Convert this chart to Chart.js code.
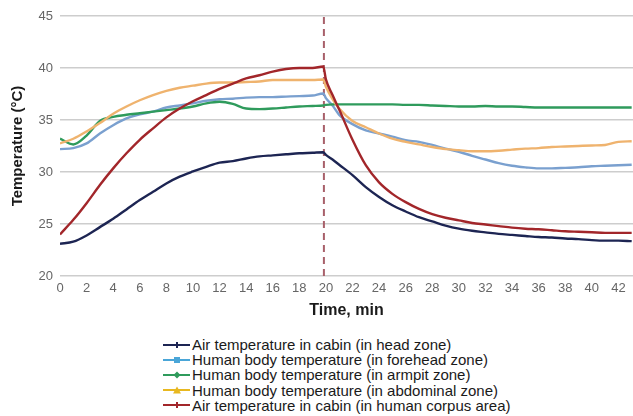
<!DOCTYPE html>
<html>
<head>
<meta charset="utf-8">
<script src="https://cdn.jsdelivr.net/npm/chart.js@4.4.1/dist/chart.umd.min.js"></script>
<style>
    body { margin: 0; background: #fff; }
    #wrap { position: relative; width: 633px; height: 330px; }
    #legend {
        position: absolute;
        left: 163px;
        top: 337px;
        font-family: "Liberation Sans", Arial, sans-serif;
        font-size: 15px;
        color: #1a1a1a;
    }
    .row { height: 15.2px; line-height: 15.2px; white-space: nowrap; display: flex; align-items: center; }
    .swatch { position: relative; width: 27px; height: 2px; margin-right: 2px; }
    .mark { position: absolute; left: 50%; top: 50%; transform: translate(-50%, -50%); }
</style>
</head>
<body>
<div id="wrap"><canvas id="chart"></canvas></div>
<div id="legend"></div>
<script>
// time axis, minutes (extra points around the switch at ~20 min)
const timeMin = [0, 1, 2, 3, 4, 5, 6, 7, 8, 9, 10, 11, 12, 13, 14, 15, 16, 17, 18, 19,
    19.8, 20, 20.5,
    21, 22, 23, 24, 25, 26, 27, 28, 29, 30, 31, 32, 33, 34, 35, 36, 37, 38, 39, 40, 41, 42, 43];

// Air temperature in cabin (head zone)
const airHead = [23.1, 23.3, 23.9, 24.7, 25.5, 26.4, 27.3, 28.1, 28.9, 29.55, 30.05, 30.5, 30.9, 31.05, 31.3, 31.5, 31.6, 31.7, 31.8, 31.85,
    31.9, 31.65, 31.2,
    30.7, 29.7, 28.55, 27.6, 26.8, 26.2, 25.65, 25.25, 24.85, 24.55, 24.35, 24.2, 24.05, 23.95, 23.85, 23.75, 23.7, 23.6, 23.55, 23.45, 23.4, 23.4, 23.35];

// Human body temperature (forehead)
const forehead = [32.2, 32.3, 32.75, 33.7, 34.5, 35.15, 35.55, 35.8, 36.2, 36.4, 36.6, 36.85, 37.0, 37.05, 37.15, 37.2, 37.2, 37.25, 37.3, 37.35,
    37.55, 37.1, 36.4,
    35.5, 34.6, 34.0, 33.7, 33.4, 33.05, 32.9, 32.6, 32.25, 31.95, 31.55, 31.2, 30.85, 30.6, 30.45, 30.35, 30.35, 30.4, 30.45, 30.55, 30.6, 30.65, 30.7];

// Human body temperature (armpit)
const armpit = [33.2, 32.65, 33.5, 34.9, 35.3, 35.5, 35.65, 35.8, 35.95, 36.1, 36.3, 36.6, 36.75, 36.55, 36.1, 36.05, 36.1, 36.2, 36.3, 36.35,
    36.4, 36.45, 36.5,
    36.5, 36.5, 36.5, 36.5, 36.5, 36.45, 36.45, 36.4, 36.35, 36.3, 36.3, 36.35, 36.3, 36.3, 36.25, 36.2, 36.2, 36.2, 36.2, 36.2, 36.2, 36.2, 36.2];

// Human body temperature (abdominal)
const abdominal = [32.75, 33.2, 33.9, 34.7, 35.6, 36.3, 36.9, 37.4, 37.8, 38.1, 38.3, 38.5, 38.6, 38.6, 38.65, 38.7, 38.85, 38.85, 38.85, 38.85,
    38.9, 38.2, 37.0,
    36.1, 34.9, 34.3, 33.7, 33.2, 32.9, 32.65, 32.4, 32.2, 32.1, 32.0, 32.0, 32.05, 32.15, 32.25, 32.3, 32.4, 32.45, 32.5, 32.55, 32.6, 32.9, 32.95];

// Air temperature in cabin (human corpus area)
const airCorpus = [24.0, 25.4, 27.0, 28.75, 30.35, 31.8, 33.1, 34.2, 35.25, 36.1, 36.8, 37.4, 38.0, 38.5, 39.0, 39.3, 39.65, 39.9, 40.0, 40.0,
    40.15, 38.9, 37.4,
    36.0, 33.1, 30.65, 29.0, 27.9, 27.1, 26.45, 25.95, 25.6, 25.35, 25.1, 24.95, 24.8, 24.65, 24.55, 24.5, 24.4, 24.3, 24.25, 24.2, 24.15, 24.15, 24.15];

const seriesLabels = [
    "Air temperature in cabin (in head zone)",
    "Human body temperature (in forehead zone)",
    "Human body temperature (in armpit zone)",
    "Human body temperature (in abdominal zone)",
    "Air temperature in cabin (in human corpus area)"
];

const xTicks = [0, 2, 4, 6, 8, 10, 12, 14, 16, 18, 20, 22, 24, 26, 28, 30, 32, 34, 36, 38, 40, 42];
const yTicks = [20, 25, 30, 35, 40, 45];

const switchTime = 19.85; // dashed marker
const yMin = 20, yMax = 45;
const xMin = 0, xMax = 43.1;

const colors = ["#1d2553", "#7aa0cf", "#2f9b5c", "#efb36e", "#a2262a"];
const legendColors = ["#1d2553", "#4aa6d8", "#2f9b5c", "#e8b820", "#a2262a"];
const allSeries = [airHead, forehead, armpit, abdominal, airCorpus];

function toPoints(values) {
    return timeMin.map((t, i) => ({ x: t, y: values[i] }));
}

// build datasets, red drawn on top
const datasets = [];
for (let i = allSeries.length - 1; i >= 0; i--) {
    datasets.push({
        label: seriesLabels[i],
        data: toPoints(allSeries[i]),
        borderColor: colors[i],
        borderWidth: 2.4,
        pointRadius: 0,
        fill: false,
        cubicInterpolationMode: "monotone"
    });
}
datasets.push({
    label: "switch",
    data: [{ x: switchTime, y: yMin }, { x: switchTime, y: yMax }],
    borderColor: "#a8606a",
    borderWidth: 2,
    borderDash: [7, 5],
    pointRadius: 0,
    fill: false
});

const ctx = document.getElementById("chart").getContext("2d");
new Chart(ctx, {
    type: "line",
    data: { datasets: datasets },
    options: {
        responsive: true,
        maintainAspectRatio: false,
        animation: false,
        layout: { padding: { top: 16, right: 0, left: 0, bottom: 0 } },
        plugins: {
            legend: { display: false },
            tooltip: { enabled: false }
        },
        scales: {
            x: {
                type: "linear",
                min: xMin,
                max: xMax,
                afterBuildTicks: function (scale) {
                    scale.ticks = xTicks.map(v => ({ value: v }));
                },
                afterFit: function (scale) { scale.height = 54; },
                grid: { display: false, drawTicks: false },
                border: { display: false },
                ticks: {
                    padding: 5,
                    maxRotation: 0,
                    autoSkip: false,
                    color: "#666",
                    font: { family: "Liberation Sans", size: 13 }
                },
                title: {
                    display: true,
                    text: "Time, min",
                    color: "#1a1a1a",
                    padding: { top: 4, bottom: 10 },
                    font: { family: "Liberation Sans", size: 16, weight: "bold" }
                }
            },
            y: {
                min: yMin,
                max: yMax,
                afterBuildTicks: function (scale) {
                    scale.ticks = yTicks.map(v => ({ value: v }));
                },
                afterFit: function (scale) { scale.width = 60; },
                grid: { color: "#cdcdcd", lineWidth: 1.6, drawTicks: false },
                border: { display: false },
                ticks: {
                    padding: 7,
                    color: "#666",
                    font: { family: "Liberation Sans", size: 13 }
                },
                title: {
                    display: true,
                    text: "Temperature (°C)",
                    color: "#1a1a1a",
                    padding: { top: 9, bottom: 0 },
                    font: { family: "Liberation Sans", size: 15, weight: "bold" }
                }
            }
        }
    }
});

// legend list under the chart
const legend = document.getElementById("legend");
const markShapes = ["tick", "square", "diamond", "triangle", "tick"];
seriesLabels.forEach(function (label, i) {
    const row = document.createElement("div");
    row.className = "row";
    const sw = document.createElement("span");
    sw.className = "swatch";
    sw.style.background = legendColors[i];
    const mk = document.createElement("span");
    mk.className = "mark";
    const c = legendColors[i];
    if (markShapes[i] === "tick") {
        mk.style.width = "2px"; mk.style.height = "6px"; mk.style.background = c;
    } else if (markShapes[i] === "square") {
        mk.style.width = "6px"; mk.style.height = "6px"; mk.style.background = c;
    } else if (markShapes[i] === "diamond") {
        mk.style.width = "5px"; mk.style.height = "5px"; mk.style.background = c;
        mk.style.transform = "translate(-50%, -50%) rotate(45deg)";
    } else {
        mk.style.width = "0"; mk.style.height = "0";
        mk.style.borderLeft = "4px solid transparent";
        mk.style.borderRight = "4px solid transparent";
        mk.style.borderBottom = "7px solid " + c;
    }
    sw.appendChild(mk);
    const txt = document.createElement("span");
    txt.textContent = label;
    row.appendChild(sw);
    row.appendChild(txt);
    legend.appendChild(row);
});
</script>
</body>
</html>
